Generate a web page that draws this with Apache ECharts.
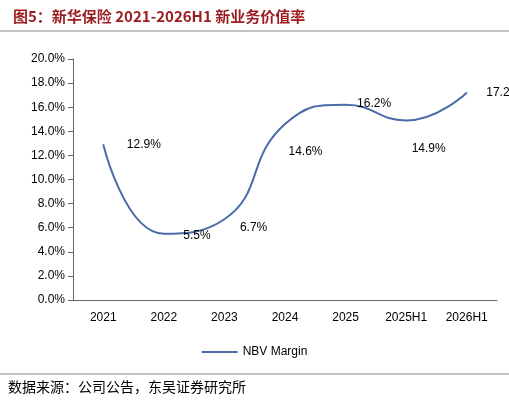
<!DOCTYPE html>
<html><head><meta charset="utf-8">
<script src="https://cdn.jsdelivr.net/npm/echarts@6/dist/echarts.min.js"></script>
<style>html,body{margin:0;padding:0;background:#fff}#c{width:509px;height:413px}</style>
</head><body><div id="c"></div>
<script>
var categories = ['2021', '2022', '2023', '2024', '2025', '2025H1', '2026H1'];
var nbvMargin = [12.9, 5.5, 6.7, 14.6, 16.2, 14.9, 17.2];
// label placement per point
var labelPos = [[18, 0], [14, 2], [10, 8], [-2, 28], [6, -1], [0, 28], [14, 0]];

var chart = echarts.init(document.getElementById('c'));
var data = nbvMargin.map(function (v, i) {
    return {value: v, label: {offset: labelPos[i]}};
});
chart.setOption({
    animation: false,
    title: {
        text: '图5：新华保险 2021-2026H1 新业务价值率',
        left: 8, top: 4,
        textStyle: {color: '#9b1b1e', fontSize: 15, fontWeight: 'bold', fontFamily: 'Noto Sans CJK SC'}
    },
    graphic: [
        {type: 'line', shape: {x1: 0, y1: 31, x2: 509, y2: 31}, style: {stroke: '#888', lineWidth: 1}},
        {type: 'line', shape: {x1: 0, y1: 374, x2: 509, y2: 374}, style: {stroke: '#888', lineWidth: 1}},
        {type: 'text', left: 8, top: 380, style: {text: '数据来源：公司公告，东吴证券研究所', fill: '#000', font: '14px "Noto Sans CJK SC"'}}
    ],
    legend: {
        bottom: 50, left: 'center', itemWidth: 36, itemHeight: 2,
        data: [{name: 'NBV Margin', icon: 'rect'}],
        textStyle: {color: '#000', fontSize: 12, fontFamily: 'Liberation Sans'}
    },
    grid: {left: 73, right: 12, top: 59, bottom: 113},
    xAxis: {
        type: 'category', data: categories,
        axisLine: {lineStyle: {color: '#666'}},
        axisTick: {show: false},
        axisLabel: {color: '#000', fontSize: 12, fontFamily: 'Liberation Sans', margin: 12}
    },
    yAxis: {
        type: 'value', min: 0, max: 20, interval: 2,
        axisLine: {show: true, lineStyle: {color: '#666'}},
        axisTick: {show: true, lineStyle: {color: '#666'}},
        splitLine: {show: false},
        axisLabel: {color: '#000', fontSize: 12, fontFamily: 'Liberation Sans', formatter: function (v) { return v.toFixed(1) + '%'; }}
    },
    series: [{
        name: 'NBV Margin', type: 'line', smooth: 0.5, data: data,
        symbol: 'circle', symbolSize: 1, showSymbol: true,
        lineStyle: {color: '#4a6ca6', width: 2},
        itemStyle: {color: '#4a6ca6'},
        label: {show: true, position: 'right', color: '#000', fontSize: 12, fontFamily: 'Liberation Sans',
            formatter: function (p) { return p.value.toFixed(1) + '%'; }}
    }]
});
</script></body></html>
